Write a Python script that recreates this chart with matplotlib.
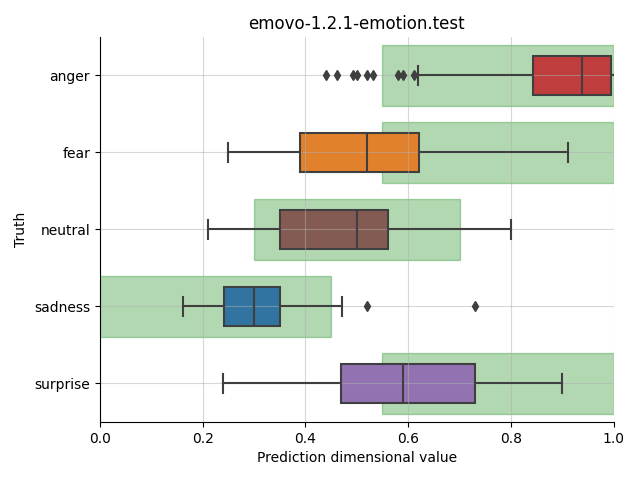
import colorsys
import matplotlib
matplotlib.use("Agg")
import matplotlib.pyplot as plt
import matplotlib.colors as mcolors
from matplotlib.patches import Rectangle

categories = ["anger", "fear", "neutral", "sadness", "surprise"]
box_colors = ["tab:red", "tab:orange", "tab:brown", "tab:blue", "tab:purple"]
whis_lo = [0.620, 0.25, 0.21, 0.161, 0.24]
q1 = [0.842, 0.39, 0.35, 0.241, 0.47]
median = [0.939, 0.52, 0.50, 0.299, 0.59]
q3 = [0.994, 0.622, 0.56, 0.351, 0.73]
whis_hi = [1.03, 0.91, 0.80, 0.471, 0.90]
outliers = [
    [0.441, 0.462, 0.493, 0.500, 0.519, 0.531, 0.581, 0.590, 0.611],
    [],
    [],
    [0.520, 0.730],
    [],
]
target_lo = [0.55, 0.55, 0.30, -0.05, 0.55]
target_hi = [1.0, 1.0, 0.70, 0.45, 1.0]


def desat(c, prop=0.75):
    r, g, b = mcolors.to_rgb(c)
    h, l, s = colorsys.rgb_to_hls(r, g, b)
    return colorsys.hls_to_rgb(h, l, s * prop)


fig, ax = plt.subplots(figsize=(6.4, 4.8), dpi=100)
fig.subplots_adjust(left=0.156, right=0.959, top=0.923, bottom=0.121)

positions = list(range(len(categories)))

for i in positions:
    ax.add_patch(Rectangle((target_lo[i], i - 0.4), target_hi[i] - target_lo[i], 0.8,
                           facecolor="g", edgecolor="g", alpha=0.3, linewidth=1, zorder=0.5))

stats = []
for i, c in enumerate(categories):
    stats.append(dict(label=c, med=median[i], q1=q1[i], q3=q3[i],
                      whislo=whis_lo[i], whishi=whis_hi[i], fliers=outliers[i]))

gray = "#3f3f3f"
bp = ax.bxp(stats, positions=positions, vert=False, widths=0.5, patch_artist=True,
            boxprops=dict(edgecolor=gray, linewidth=1.5),
            medianprops=dict(color=gray, linewidth=1.5),
            whiskerprops=dict(color=gray, linewidth=1.5),
            capprops=dict(color=gray, linewidth=1.5),
            flierprops=dict(marker="d", markerfacecolor=gray, markeredgecolor=gray,
                            markersize=5, linestyle="none"))
for patch, col in zip(bp["boxes"], box_colors):
    patch.set_facecolor(desat(col))
    patch.set_zorder(1)

ax.grid(True, alpha=0.5)
ax.set_xlim(0, 1)
ax.set_ylim(4.5, -0.5)
ax.set_yticks(positions)
ax.set_yticklabels(categories)
ax.spines["top"].set_visible(False)
ax.spines["right"].set_visible(False)
ax.set_title("emovo-1.2.1-emotion.test")
ax.set_xlabel("Prediction dimensional value")
ax.set_ylabel("Truth")

fig.savefig("out.png", dpi=100)
